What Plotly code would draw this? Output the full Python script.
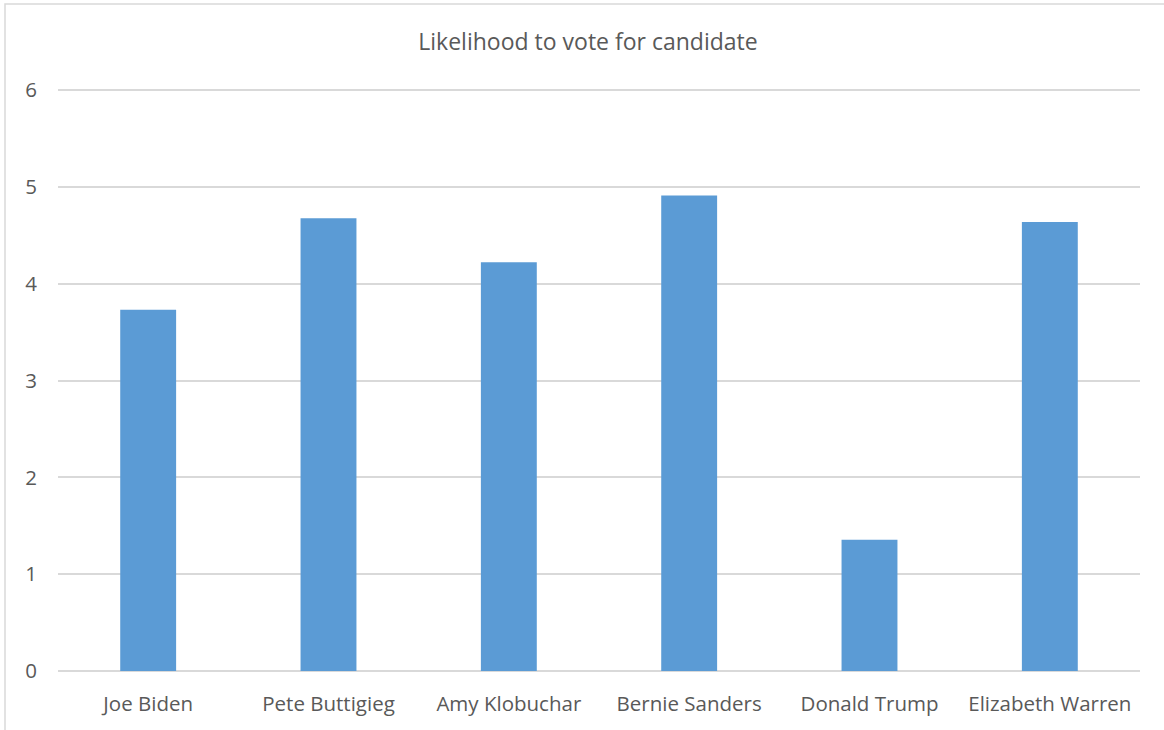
import plotly.graph_objects as go

candidates = ["Joe Biden", "Pete Buttigieg", "Amy Klobuchar", "Bernie Sanders", "Donald Trump", "Elizabeth Warren"]
likelihood = [3.73, 4.675, 4.22, 4.91, 1.355, 4.637]
y_ticks = [0, 1, 2, 3, 4, 5, 6]

W, H = 1164, 730
ml, mr, mt, mb = 58, 24, 88, 59
px_per_unit = (671 - 90) / 6
y_top = 6 + (90 - mt) / px_per_unit

fig = go.Figure(go.Bar(
    x=candidates, y=likelihood,
    marker=dict(color="#5B9BD5", line=dict(width=0)),
    width=0.31,
))

fig.update_layout(
    width=W, height=H,
    margin=dict(l=ml, r=mr, t=mt, b=mb),
    paper_bgcolor="white", plot_bgcolor="white",
    font=dict(family="Open Sans, sans-serif", color="#595959", size=20.5),
    title=dict(text="Likelihood to vote for candidate", x=588 / W, xanchor="center",
               y=1 - 42 / H, yanchor="middle", font=dict(size=23, color="#595959")),
    showlegend=False,
    bargap=0.69,
)
fig.update_yaxes(range=[0, y_top], tickvals=y_ticks, showgrid=True, gridcolor="#D9D9D9", gridwidth=1.5,
                 zeroline=True, zerolinecolor="#D9D9D9", zerolinewidth=1.5,
                 showline=False, ticks="", ticklabelstandoff=20)
fig.update_xaxes(showgrid=False, showline=False, ticks="", ticklabelstandoff=18)

# chart border
fig.add_shape(type="rect", xref="paper", yref="paper",
              x0=-(ml - 5) / (W - ml - mr), x1=1 + (mr + 10) / (W - ml - mr),
              y0=-(mb + 10) / (H - mt - mb), y1=1 + (mt - 4) / (H - mt - mb),
              line=dict(color="#D9D9D9", width=1.5), layer="below")

fig.write_html("out.html", config={"displayModeBar": False},
               post_script="document.body.style.margin='0';document.body.style.padding='0';")
